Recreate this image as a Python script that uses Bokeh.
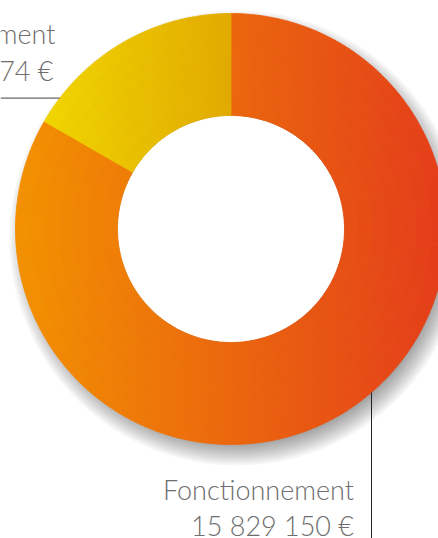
import numpy as np
from bokeh.plotting import figure
from bokeh.models import Range1d, ColumnDataSource
from bokeh.core.properties import value
from bokeh.embed import file_html
from bokeh.resources import INLINE

# ---------------- data ----------------
categories = ["Fonctionnement", "Investissement"]
amounts = [15829150, 3168574]
grad_left = ["#F39200", "#F0D500"]
grad_right = ["#E43C1A", "#E2AA00"]

# ---------------- layout ----------------
R_OUT, R_IN = 215.5, 113.5
W, H = 438, 538
X0, X1 = -230.5, 207.5
Y0, Y1 = -309.5, 228.5
FONT = value("Lato Light, Lato, sans-serif")
TXT = "#6E6E6E"
DY = 10.5  # baseline compensation


def hex2rgb(h):
    h = h.lstrip("#")
    return np.array([int(h[i:i + 2], 16) for i in (0, 2, 4)], dtype=float)


def fmt(v):
    return "{:,}".format(v).replace(",", " ") + " €"


p = figure(width=W, height=H, x_range=Range1d(X0, X1), y_range=Range1d(Y0, Y1),
           output_backend="svg", toolbar_location=None, min_border=0,
           title=None, x_axis_type=None, y_axis_type=None)
p.grid.visible = False
p.outline_line_color = None
p.background_fill_color = "white"
p.border_fill_color = "white"

# ---------------- drop shadow ----------------
sdx, sdy = 6, -9
offs = np.linspace(-12, 12, 13)
p.circle(x=[sdx] * len(offs), y=[sdy] * len(offs), radius=list(R_OUT + offs),
         fill_color="black", fill_alpha=0.034, line_color=None)
p.circle(x=[0], y=[0], radius=R_IN, fill_color="white", line_color=None)

# ---------------- donut with horizontal gradients ----------------
total = float(sum(amounts))
fracs = [a / total for a in amounts]
cum = np.concatenate([[0.0], np.cumsum(fracs)])

xs, ys, rin, rout, sa, ea, cols = [], [], [], [], [], [], []
n_rings = 7
ring_edges = np.linspace(R_IN, R_OUT, n_rings + 1)
for i, cat in enumerate(categories):
    c0, c1 = cum[i] * 2 * np.pi, cum[i + 1] * 2 * np.pi
    m_start, m_end = np.pi / 2 - c1, np.pi / 2 - c0
    th = np.linspace(m_start, m_end, 400)
    ext = np.concatenate([R_OUT * np.cos(th), R_IN * np.cos(th)])
    gx0, gx1 = ext.min(), ext.max()
    cl, cr = hex2rgb(grad_left[i]), hex2rgb(grad_right[i])
    n_ang = max(2, int(np.degrees(m_end - m_start) / 1.5))
    a_edges = np.linspace(m_start, m_end, n_ang + 1)
    for j in range(n_rings):
        for k in range(n_ang):
            am = 0.5 * (a_edges[k] + a_edges[k + 1])
            rm = 0.5 * (ring_edges[j] + ring_edges[j + 1])
            xc = rm * np.cos(am)
            t = np.clip((xc - gx0) / (gx1 - gx0), 0, 1)
            c = cl + (cr - cl) * t
            xs.append(0)
            ys.append(0)
            rin.append(ring_edges[j])
            rout.append(ring_edges[j + 1])
            sa.append(a_edges[k])
            ea.append(a_edges[k + 1])
            cols.append("#%02x%02x%02x" % tuple(int(round(v)) for v in c))

src = ColumnDataSource(dict(x=xs, y=ys, rin=rin, rout=rout, sa=sa, ea=ea, c=cols))
p.annular_wedge(x="x", y="y", inner_radius="rin", outer_radius="rout",
                start_angle="sa", end_angle="ea", direction="anticlock",
                fill_color="c", line_color="c", line_width=0.8, source=src)

# ---------------- labels & leader lines ----------------
vx = 140.5
vy_top = -np.sqrt(R_OUT ** 2 - vx ** 2)
p.line(x=[vx, vx], y=[vy_top, Y0], line_color="#222222", line_width=1)
p.text(x=[123, 123], y=[-270.5 + DY, -306.5 + DY], text=[categories[0], fmt(amounts[0])],
       text_align="right", text_baseline="alphabetic", text_font=FONT,
       text_font_size="27px", text_color=TXT)

hy = 130.8
hx_end = -np.sqrt(R_OUT ** 2 - hy ** 2)
p.line(x=[X0, hx_end], y=[hy, hy], line_color="#666666", line_width=1.2)
p.text(x=[-175.5, -177.5], y=[185.5 + DY, 148.5 + DY], text=[categories[1], fmt(amounts[1])],
       text_align="right", text_baseline="alphabetic", text_font=FONT,
       text_font_size="27px", text_color=TXT)

open("out.html", "w").write(file_html(p, INLINE))
